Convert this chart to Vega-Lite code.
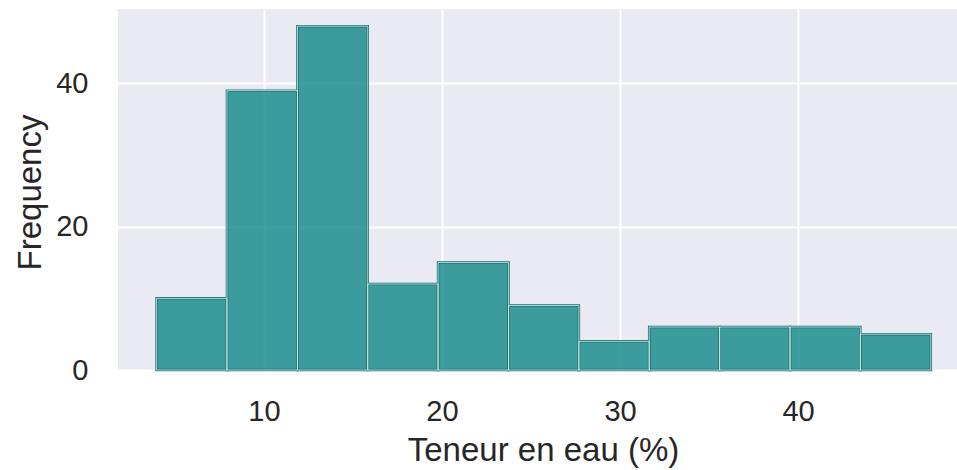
{
  "$schema": "https://vega.github.io/schema/vega-lite/v6.json",
  "autosize": {"type": "none"},
  "padding": {"left": 118, "top": 9, "right": 0, "bottom": 100},
  "width": 839,
  "height": 361,
  "background": "white",
  "config": {
    "view": {"fill": "#EAEAF2", "stroke": null},
    "font": "Liberation Sans",
    "axis": {
      "domain": false,
      "ticks": false,
      "grid": true,
      "gridColor": "white",
      "gridWidth": 2,
      "labelFont": "Liberation Sans",
      "labelFontSize": 29,
      "labelColor": "#262626",
      "titleFont": "Liberation Sans",
      "titleFontSize": 33,
      "titleFontWeight": "normal",
      "titleColor": "#262626"
    }
  },
  "data": {
    "values": [
      {"lo": 3.97, "hi": 7.92, "count": 10},
      {"lo": 7.92, "hi": 11.88, "count": 39},
      {"lo": 11.88, "hi": 15.83, "count": 48},
      {"lo": 15.83, "hi": 19.78, "count": 12},
      {"lo": 19.78, "hi": 23.74, "count": 15},
      {"lo": 23.74, "hi": 27.69, "count": 9},
      {"lo": 27.69, "hi": 31.64, "count": 4},
      {"lo": 31.64, "hi": 35.60, "count": 6},
      {"lo": 35.60, "hi": 39.55, "count": 6},
      {"lo": 39.55, "hi": 43.50, "count": 6},
      {"lo": 43.50, "hi": 47.46, "count": 5}
    ]
  },
  "encoding": {
    "x": {
      "field": "lo",
      "type": "quantitative",
      "scale": {"domain": [1.8, 48.93], "nice": false, "zero": false},
      "axis": {
        "values": [10, 20, 30, 40],
        "title": "Teneur en eau (%)",
        "labelPadding": 27,
        "titleX": 425,
        "titleY": 90,
        "titleBaseline": "alphabetic",
        "titleAlign": "center",
        "titleAnchor": null
      }
    },
    "x2": {"field": "hi"},
    "y": {
      "field": "count",
      "type": "quantitative",
      "scale": {"domain": [0, 50.4], "nice": false},
      "axis": {
        "values": [0, 20, 40],
        "title": "Frequency",
        "labelPadding": 30,
        "titleX": -78,
        "titleY": 183,
        "titleAngle": 270,
        "titleBaseline": "alphabetic",
        "titleAlign": "center",
        "titleAnchor": null
      }
    },
    "y2": {"datum": 0}
  },
  "layer": [
    {
      "mark": {"type": "bar", "fill": "#008080", "fillOpacity": 0.75, "stroke": "#17716f", "strokeWidth": 2.5}
    },
    {
      "mark": {"type": "bar", "fill": null, "fillOpacity": 0, "stroke": "#e3f3f3", "strokeWidth": 0.8}
    }
  ]
}
